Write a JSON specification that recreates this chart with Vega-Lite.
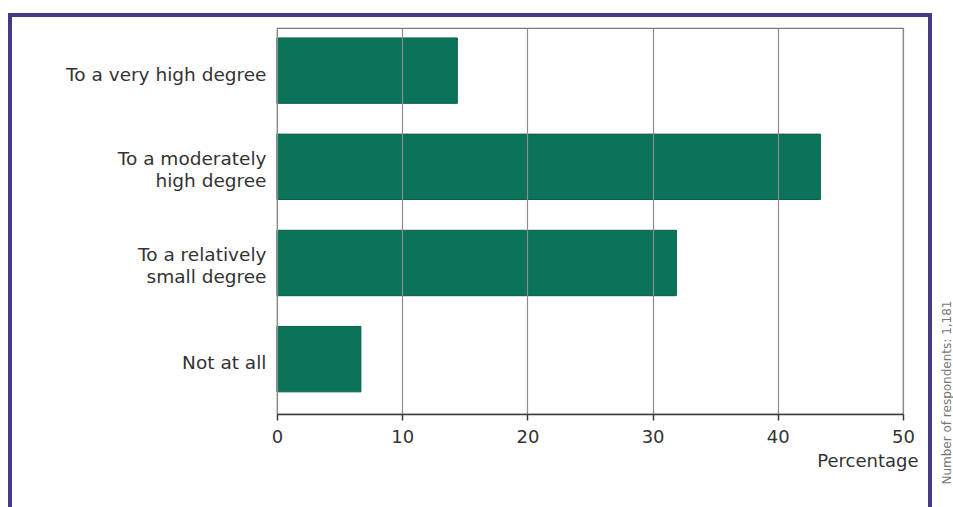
{
  "$schema": "https://vega.github.io/schema/vega-lite/v6.json",
  "width": 626,
  "height": 386,
  "autosize": {"type": "none"},
  "padding": {"left": 277, "top": 28, "right": 50, "bottom": 93},
  "background": "white",
  "config": {
    "view": {"stroke": "#7a7a7a", "strokeWidth": 1.2},
    "font": "DejaVu Sans"
  },
  "datasets": {
    "answers": [
      {"Response": "To a very high degree", "Percentage": 14.4},
      {"Response": "To a moderately|high degree", "Percentage": 43.4},
      {"Response": "To a relatively|small degree", "Percentage": 31.9},
      {"Response": "Not at all", "Percentage": 6.7}
    ]
  },
  "resolve": {"axis": {"y": "independent"}},
  "layer": [
    {
      "data": {"values": [{}]},
      "mark": {"type": "rect", "fill": null, "stroke": "#453a86", "strokeWidth": 4, "clip": false},
      "encoding": {
        "x": {"value": -267},
        "x2": {"value": 653},
        "y": {"value": -13},
        "y2": {"value": 540}
      }
    },
    {
      "data": {"name": "answers"},
      "mark": {"type": "bar", "color": "#0b735a", "stroke": "#0a5f4a", "strokeWidth": 1},
      "encoding": {
        "x": {
          "field": "Percentage",
          "type": "quantitative",
          "scale": {"domain": [0, 50], "nice": false},
          "axis": {
            "values": [0, 10, 20, 30, 40, 50],
            "grid": true,
            "gridColor": "#8c8c8c",
            "gridWidth": 1.2,
            "zindex": 1,
            "domainColor": "#3a3a3a",
            "domainWidth": 1.5,
            "tickColor": "#3a3a3a",
            "tickSize": 6,
            "tickWidth": 1.5,
            "labelFontSize": 18,
            "labelColor": "#333333",
            "labelPadding": 8,
            "labelFlush": false,
            "title": "Percentage",
            "titleFontSize": 18,
            "titleFontWeight": "normal",
            "titleColor": "#333333",
            "titleAnchor": "end",
            "titleAlign": "right",
            "titleX": 641,
            "titleY": 52,
            "titleBaseline": "alphabetic"
          }
        },
        "y": {
          "field": "Response",
          "type": "nominal",
          "sort": null,
          "scale": {"paddingInner": 0.32, "paddingOuter": 0.167, "align": 0.31},
          "axis": {
            "title": null,
            "ticks": false,
            "domain": false,
            "labelExpr": "split(datum.value, '|')",
            "labelFontSize": 18.5,
            "labelColor": "#333333",
            "labelPadding": 11,
            "labelLineHeight": 22,
            "labelLimit": 300,
            "labelOffset": {"condition": {"test": "indexof(datum.value, '|') >= 0", "value": -8}, "value": 4}
          }
        }
      }
    },
    {
      "data": {"name": "answers"},
      "mark": {"type": "tick", "opacity": 0},
      "encoding": {
        "y": {
          "field": "Response",
          "type": "nominal",
          "sort": null,
          "axis": {
            "orient": "right",
            "labels": false,
            "ticks": false,
            "domain": false,
            "grid": false,
            "title": "Number of respondents: 1,181",
            "titleFontSize": 12,
            "titleFontWeight": "normal",
            "titleColor": "#777777",
            "titleAngle": 270,
            "titleAlign": "right",
            "titleBaseline": "middle",
            "titleX": 43,
            "titleY": 272
          }
        }
      }
    }
  ]
}
